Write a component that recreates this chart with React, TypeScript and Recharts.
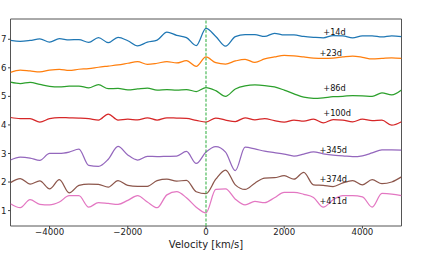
import React from 'react';
import { LineChart, Line, XAxis, YAxis, ReferenceLine, ReferenceArea, ReferenceDot } from 'recharts';

const velocity = [-5000, -4750, -4500, -4250, -4000, -3750, -3500, -3250, -3000, -2750, -2500, -2250, -2000, -1750, -1500, -1250, -1000, -750, -500, -250, 0, 250, 500, 750, 1000, 1250, 1500, 1750, 2000, 2250, 2500, 2750, 3000, 3250, 3500, 3750, 4000, 4250, 4500, 4750, 5000];

const d14 = [6.96, 6.93, 6.96, 7.01, 6.90, 7.02, 6.98, 6.99, 6.89, 7.06, 6.88, 7.07, 6.95, 6.77, 6.90, 6.97, 7.25, 7.14, 7.06, 6.78, 7.38, 7.10, 6.76, 7.09, 7.16, 7.16, 7.10, 7.21, 7.15, 7.15, 7.10, 7.07, 7.05, 7.13, 7.12, 7.05, 7.12, 7.12, 7.08, 7.12, 7.09];
const d23 = [5.84, 5.92, 5.89, 5.86, 5.92, 5.95, 5.91, 5.95, 5.97, 6.02, 6.06, 6.10, 6.16, 6.22, 6.12, 6.16, 6.22, 6.17, 6.25, 6.05, 6.38, 6.18, 6.13, 6.24, 6.30, 6.19, 6.31, 6.38, 6.44, 6.42, 6.38, 6.34, 6.33, 6.34, 6.38, 6.41, 6.37, 6.31, 6.33, 6.35, 6.33];
const d86 = [5.50, 5.45, 5.49, 5.42, 5.35, 5.33, 5.36, 5.36, 5.30, 5.41, 5.27, 5.28, 5.23, 5.26, 5.29, 5.22, 5.24, 5.22, 5.24, 5.17, 5.31, 5.20, 5.00, 5.26, 5.37, 5.40, 5.38, 5.33, 5.22, 5.09, 4.97, 4.93, 4.95, 4.99, 5.00, 5.03, 5.02, 5.00, 5.12, 5.05, 5.22];
const d100 = [4.26, 4.22, 4.22, 4.10, 4.22, 4.26, 4.25, 4.24, 4.22, 4.17, 4.38, 4.17, 4.20, 4.18, 4.25, 4.17, 4.25, 4.24, 4.23, 4.16, 4.10, 4.24, 4.17, 4.12, 4.25, 4.18, 4.22, 4.15, 4.10, 4.17, 4.13, 4.20, 4.07, 4.19, 4.17, 4.11, 4.20, 4.15, 4.17, 3.99, 4.11];
const d345 = [2.77, 2.87, 2.84, 2.76, 3.00, 3.00, 3.05, 3.15, 2.58, 2.55, 2.80, 3.25, 2.95, 2.77, 2.90, 2.89, 2.90, 2.91, 3.07, 2.65, 3.05, 3.24, 3.05, 2.40, 3.22, 3.16, 3.08, 3.03, 2.98, 2.91, 2.98, 3.06, 2.99, 2.94, 2.92, 2.89, 2.92, 3.02, 3.13, 3.13, 3.12];
const d374 = [1.98, 2.12, 1.93, 2.04, 1.76, 2.08, 1.62, 1.88, 1.93, 1.92, 1.82, 2.05, 1.88, 1.85, 1.85, 2.05, 2.10, 2.03, 2.06, 1.66, 1.59, 2.10, 2.42, 1.90, 1.74, 1.96, 2.14, 2.15, 2.22, 2.10, 2.34, 1.90, 1.88, 1.84, 1.97, 2.05, 1.90, 2.08, 1.94, 2.00, 2.18];
const d411 = [1.24, 1.10, 1.38, 1.22, 1.20, 1.30, 1.52, 1.52, 1.12, 1.28, 1.25, 1.22, 1.36, 1.52, 1.30, 1.10, 1.55, 1.66, 1.45, 1.12, 0.92, 1.74, 1.76, 1.40, 1.20, 1.32, 1.28, 1.45, 1.64, 1.64, 1.57, 1.46, 1.12, 1.38, 1.52, 1.52, 1.48, 1.12, 1.60, 1.58, 1.52];

const seriesKeys = ['d14', 'd23', 'd86', 'd100', 'd345', 'd374', 'd411'];
const seriesValues = [d14, d23, d86, d100, d345, d374, d411];
const seriesColors = ['#1f77b4', '#ff7f0e', '#2ca02c', '#d62728', '#9467bd', '#8c564b', '#e377c2'];

const labelTexts = ['+14d', '+23d', '+86d', '+100d', '+345d', '+374d', '+411d'];
const labelX = [3000, 2900, 3000, 3000, 2900, 2900, 2900];
const labelY = [7.26, 6.51, 5.30, 4.42, 3.12, 2.12, 1.33];

const xTicks = [-4000, -2000, 0, 2000, 4000];
const yTicks = [1, 2, 3, 4, 5, 6, 7];
const X_MIN = -5000;
const X_MAX = 5000;
const Y_MIN = 0.46;
const Y_MAX = 7.71;

const data = velocity.map((v, i) => {
  const row: Record<string, number> = { v };
  seriesKeys.forEach((k, j) => {
    row[k] = seriesValues[j][i];
  });
  return row;
});

const fmt = (t: number) => String(t).replace('-', '\u2212');
const FONT = 'DejaVu Sans';

export default function App() {
  return (
    <div style={{ position: 'absolute', left: 0, top: 0, width: 426, height: 256, background: '#fff' }}>
      <LineChart
        width={426}
        height={256}
        data={data}
        margin={{ top: 19, right: 24.5, bottom: 0, left: 0 }}
        style={{ fontFamily: FONT }}
      >
        <XAxis
          dataKey="v"
          type="number"
          domain={[X_MIN, X_MAX]}
          ticks={xTicks}
          tickFormatter={fmt}
          height={30}
          axisLine={false}
          tickSize={2.5}
          tickMargin={0.5}
          tickLine={{ stroke: '#444' }}
          tick={{ fontSize: 8.6, fill: '#222', fontFamily: FONT }}
          allowDataOverflow
          label={{ value: 'Velocity [km/s]', position: 'insideBottom', offset: 8, fontSize: 10, fill: '#222', fontFamily: FONT }}
        />
        <YAxis
          type="number"
          domain={[Y_MIN, Y_MAX]}
          ticks={yTicks}
          width={10.5}
          axisLine={false}
          tickSize={2.5}
          tickMargin={1.5}
          tickLine={{ stroke: '#444' }}
          tick={{ fontSize: 8.6, fill: '#222', fontFamily: FONT }}
          allowDataOverflow
        />
        <ReferenceArea x1={X_MIN} x2={X_MAX} y1={Y_MIN} y2={Y_MAX} fill="none" stroke="#555" strokeWidth={1} />
        {seriesKeys.map((k, j) => (
          <Line
            key={k}
            dataKey={k}
            type="monotone"
            stroke={seriesColors[j]}
            strokeWidth={1.25}
            dot={false}
            isAnimationActive={false}
          />
        ))}
        <ReferenceLine x={0} stroke="#3cb44b" strokeWidth={1.1} strokeDasharray="3 1.6" />
        {labelTexts.map((t, j) => (
          <ReferenceDot
            key={t}
            x={labelX[j]}
            y={labelY[j]}
            r={0}
            fill="none"
            stroke="none"
            label={{ value: t, position: 'right', offset: 0, fontSize: 8.2, fill: '#111', fontFamily: FONT }}
          />
        ))}
      </LineChart>
    </div>
  );
}
